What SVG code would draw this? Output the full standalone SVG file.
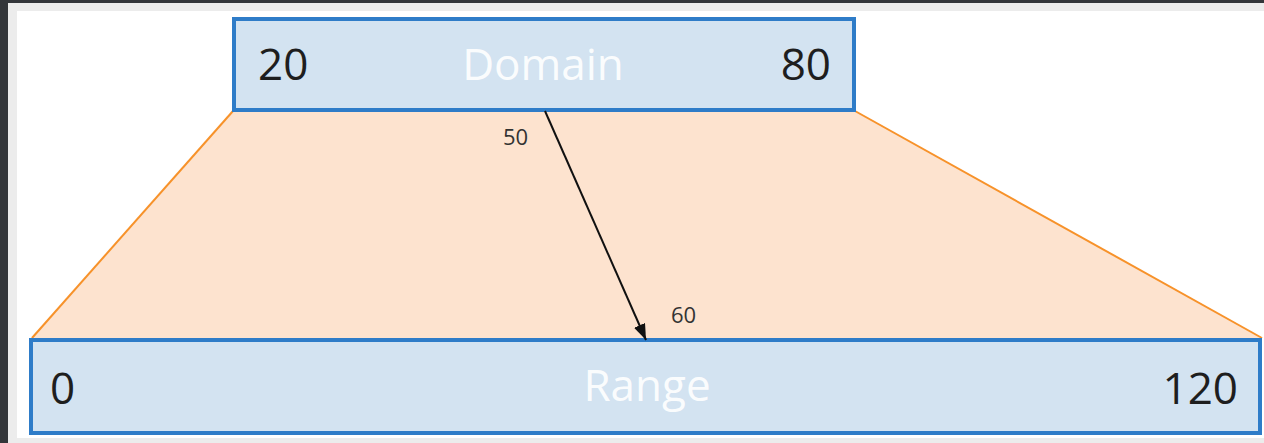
<svg xmlns="http://www.w3.org/2000/svg" width="1264" height="443" viewBox="0 0 1264 443">
  <style>
    .box { fill: #d3e3f1; stroke: #2e7cc8; stroke-width: 4; }
    .num { font-family: "Open Sans", "Liberation Sans", sans-serif; font-size: 44px; fill: #1e1e1e; }
    .title { font-family: "Open Sans", "Liberation Sans", sans-serif; font-size: 44px; fill: #ffffff; fill-opacity: 0.92; }
    .small { font-family: "Open Sans", "Liberation Sans", sans-serif; font-size: 22px; fill: #333333; }
    .edge { stroke: #f7922a; stroke-width: 2; fill: none; }
  </style>
  <defs>
    <marker id="arrow" viewBox="0 0 16 12" refX="16" refY="6" markerWidth="8" markerHeight="6" markerUnits="strokeWidth" orient="auto">
      <path d="M0,0 L16,6 L0,12 z" fill="#111111"/>
    </marker>
  </defs>
  <rect x="0" y="0" width="1264" height="443" fill="#33363a"/>
  <rect x="8" y="3" width="1256" height="440" fill="#ececec"/>
  <rect x="17" y="11" width="1247" height="427" fill="#ffffff"/>

  <g id="mapping">
    <polygon points="234,110 854,110 1262,338 31,338" fill="#fde3cf"/>
    <line class="edge" x1="233" y1="111" x2="32" y2="338"/>
    <line class="edge" x1="855" y1="111" x2="1262" y2="338"/>
  </g>

  <g id="domain">
    <rect class="box" x="234" y="19" width="620" height="91"/>
    <text class="num" x="258" y="80">20</text>
    <text class="title" x="543" y="80" text-anchor="middle">Domain</text>
    <text class="num" x="831" y="80" text-anchor="end">80</text>
  </g>

  <g id="range">
    <rect class="box" x="31" y="340" width="1229" height="93"/>
    <text class="num" x="50" y="404">0</text>
    <text class="title" x="647" y="401" text-anchor="middle">Range</text>
    <text class="num" x="1238" y="404" text-anchor="end">120</text>
  </g>

  <g id="connectors">
    <line x1="545" y1="111" x2="646" y2="340" stroke="#111111" stroke-width="2" marker-end="url(#arrow)"/>
    <text class="small" x="503" y="145">50</text>
    <text class="small" x="671" y="323">60</text>
  </g>
</svg>
